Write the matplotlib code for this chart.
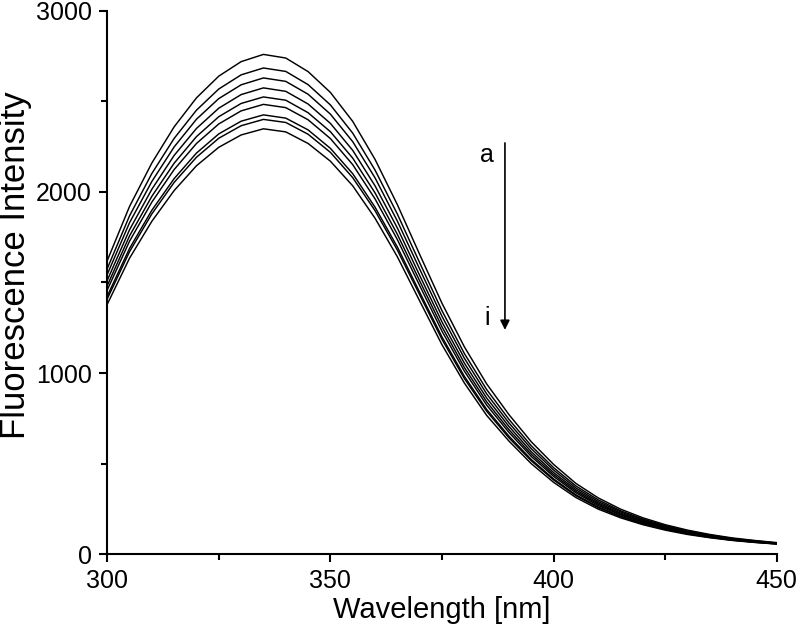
import matplotlib
matplotlib.use("Agg")
import matplotlib.pyplot as plt
from matplotlib.ticker import MultipleLocator

plt.rcParams["font.family"] = ["Liberation Sans", "DejaVu Sans"]

# emission wavelengths (nm), one reading every 5 nm
wavelength = list(range(300, 451, 5))

# fluorescence intensity of spectra a..i
curve_a = [1620, 1920, 2160, 2360, 2520, 2640, 2720, 2760, 2740, 2665, 2550,
           2390, 2180, 1930, 1655, 1385, 1145, 940, 770, 620, 495, 390, 310,
           248, 200, 162, 132, 108, 89, 75, 63]
curve_b = [1576, 1868, 2102, 2296, 2452, 2569, 2647, 2685, 2666, 2593, 2481,
           2325, 2121, 1878, 1609, 1344, 1108, 909, 744, 598, 477, 376, 299,
           239, 193, 157, 128, 105, 86, 73, 61]
curve_c = [1544, 1830, 2058, 2249, 2402, 2516, 2592, 2630, 2611, 2540, 2430,
           2278, 2078, 1839, 1574, 1313, 1082, 885, 724, 582, 464, 365, 290,
           233, 188, 153, 124, 102, 85, 71, 60]
curve_d = [1511, 1791, 2015, 2202, 2351, 2463, 2538, 2575, 2556, 2486, 2379,
           2230, 2034, 1801, 1539, 1282, 1055, 862, 705, 565, 450, 355, 282,
           226, 183, 149, 121, 100, 83, 70, 59]
curve_e = [1482, 1757, 1976, 2159, 2306, 2416, 2489, 2525, 2507, 2438, 2333,
           2187, 1995, 1766, 1509, 1255, 1031, 841, 687, 551, 439, 346, 275,
           220, 178, 145, 118, 98, 81, 69, 58]
curve_f = [1458, 1728, 1944, 2124, 2268, 2376, 2448, 2484, 2466, 2399, 2295,
           2151, 1962, 1737, 1483, 1231, 1011, 823, 672, 539, 429, 338, 268,
           216, 175, 142, 116, 96, 79, 68, 58]
curve_g = [1424, 1688, 1899, 2074, 2215, 2321, 2391, 2426, 2408, 2343, 2241,
           2101, 1916, 1696, 1446, 1199, 982, 799, 651, 522, 415, 327, 260,
           209, 169, 138, 113, 93, 77, 66, 56]
curve_h = [1409, 1670, 1879, 2053, 2192, 2297, 2366, 2401, 2384, 2319, 2219,
           2079, 1897, 1679, 1432, 1186, 970, 789, 642, 515, 409, 322, 256,
           206, 167, 136, 111, 92, 77, 65, 56]
curve_i = [1379, 1634, 1838, 2008, 2145, 2247, 2315, 2349, 2332, 2268, 2170,
           2034, 1855, 1642, 1398, 1156, 945, 766, 624, 499, 396, 312, 248,
           200, 162, 132, 108, 90, 75, 64, 55]

spectra = [curve_a, curve_b, curve_c, curve_d, curve_e,
           curve_f, curve_g, curve_h, curve_i]

fig = plt.figure(figsize=(8, 6.3), dpi=100)
ax = fig.add_axes((0.134, 0.1206, 0.837, 0.862))

for spec in spectra:
    ax.plot(wavelength, spec, color="black", lw=1.05)

ax.set_xlim(300, 450)
ax.set_ylim(0, 3000)
ax.xaxis.set_major_locator(MultipleLocator(50))
ax.xaxis.set_minor_locator(MultipleLocator(25))
ax.yaxis.set_major_locator(MultipleLocator(1000))
ax.yaxis.set_minor_locator(MultipleLocator(500))

for side in ("top", "right"):
    ax.spines[side].set_visible(False)
for side in ("left", "bottom"):
    ax.spines[side].set_linewidth(1.5)

ax.tick_params(which="major", direction="out", length=6, width=1.5,
               labelsize=18, pad=5)
ax.tick_params(which="minor", direction="out", length=4, width=1.5)

ax.set_xlabel("Wavelength [nm]", fontsize=21, labelpad=2)
ax.set_ylabel("Fluorescence Intensity", fontsize=25)
ax.yaxis.set_label_coords(-0.112, 0.532)

# arrow showing the order of the spectra
ax.annotate("", xy=(389.1, 1238), xytext=(389.1, 2271),
            arrowprops=dict(arrowstyle="-|>", color="black", lw=1.2,
                            mutation_scale=14, shrinkA=0, shrinkB=0))
ax.text(385.1, 2204, "a", fontsize=18, ha="center", va="center")
ax.text(385.1, 1304, "i", fontsize=18, ha="center", va="center")

fig.savefig("out.png", dpi=100)
